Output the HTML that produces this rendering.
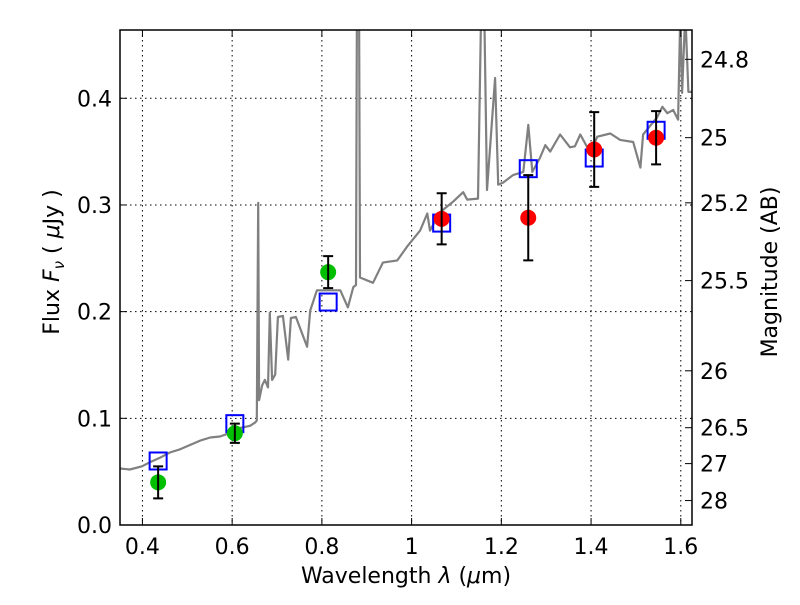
<!DOCTYPE html>
<html><head><meta charset="utf-8">
<style>
body{margin:0;background:#fff;}
svg text{font-family:"DejaVu Sans","Liberation Sans",sans-serif;fill:#000;}
</style></head>
<body>
<svg id="chart" width="800" height="600" viewBox="0 0 800 600" xmlns="http://www.w3.org/2000/svg">
<defs><clipPath id="plotclip"><rect x="120" y="30" width="572" height="495"/></clipPath></defs>
<rect width="800" height="600" fill="#fff"/>
<g id="grid"></g>
<g id="spec" clip-path="url(#plotclip)"></g>
<g id="marks"></g>
<rect x="120" y="30" width="572" height="495" fill="none" stroke="#000" stroke-width="1.5"/>
<g id="axes"></g>
<text x="406" y="583" font-size="22" text-anchor="middle">Wavelength  <tspan font-style="italic">λ</tspan> (<tspan font-style="italic">μ</tspan>m)</text>
<text transform="translate(59,262) rotate(-90)" font-size="22" text-anchor="middle">Flux  <tspan font-style="italic">F</tspan><tspan font-style="italic" font-size="15" dy="5">ν</tspan><tspan dy="-5">   (  </tspan><tspan font-style="italic">μ</tspan>Jy )</text>
<text transform="translate(777,272) rotate(-90)" font-size="22" text-anchor="middle">Magnitude (AB)</text>
</svg>
<script>
const specLam=[0.350,0.372,0.399,0.417,0.439,0.461,0.484,0.506,0.528,0.551,0.573,0.600,0.618,0.640,0.651,0.655,0.658,0.660,0.667,0.673,0.680,0.684,0.689,0.696,0.702,0.713,0.725,0.731,0.742,0.767,0.774,0.789,0.841,0.858,0.870,0.876,0.878,0.883,0.885,0.914,0.936,0.968,0.990,1.019,1.035,1.041,1.063,1.092,1.115,1.124,1.148,1.155,1.162,1.168,1.186,1.193,1.204,1.226,1.249,1.260,1.269,1.286,1.298,1.309,1.331,1.353,1.364,1.376,1.398,1.414,1.443,1.465,1.494,1.510,1.516,1.547,1.559,1.570,1.583,1.594,1.599,1.603,1.610,1.617,1.625];
const specFlux=[0.053,0.052,0.055,0.059,0.063,0.068,0.071,0.075,0.079,0.082,0.083,0.087,0.091,0.093,0.096,0.098,0.302,0.117,0.131,0.136,0.129,0.199,0.136,0.141,0.195,0.196,0.155,0.194,0.195,0.167,0.201,0.220,0.220,0.204,0.223,0.225,0.48,0.48,0.232,0.227,0.246,0.248,0.261,0.276,0.292,0.276,0.293,0.303,0.312,0.305,0.306,0.48,0.48,0.314,0.419,0.319,0.321,0.328,0.331,0.375,0.331,0.344,0.356,0.350,0.366,0.354,0.355,0.366,0.349,0.364,0.367,0.361,0.359,0.335,0.366,0.382,0.392,0.386,0.389,0.380,0.48,0.405,0.48,0.406,0.406];
const bandLam=[0.435,0.606,0.814,1.067,1.260,1.407,1.545];
const obsFlux=[0.040,0.086,0.237,0.287,0.288,0.352,0.363];
const obsErr=[0.015,0.009,0.015,0.024,0.040,0.035,0.025];
const obsColor=["#00bf00","#00bf00","#00bf00","#ff0000","#ff0000","#ff0000","#ff0000"];
const modelFlux=[0.060,0.095,0.209,0.283,0.334,0.344,0.370];
const xTicks=[0.4,0.6,0.8,1.0,1.2,1.4,1.6];
const xTickLabels=["0.4","0.6","0.8","1","1.2","1.4","1.6"];
const yTicks=[0.0,0.1,0.2,0.3,0.4];
const yTickLabels=["0.0","0.1","0.2","0.3","0.4"];
const magTicks=[24.8,25,25.2,25.5,26,26.5,27,28];

const X0=120,X1=692,Y0=525,Y1=30,LMIN=0.35,LMAX=1.625,FMIN=0,FMAX=0.464;
const sx=v=>X0+(v-LMIN)/(LMAX-LMIN)*(X1-X0);
const sy=v=>Y0-(v-FMIN)/(FMAX-FMIN)*(Y0-Y1);
const NS="http://www.w3.org/2000/svg";
function mk(tag,attrs,parent){const e=document.createElementNS(NS,tag);for(const k in attrs)e.setAttribute(k,attrs[k]);parent.appendChild(e);return e;}
const grid=document.getElementById('grid'),axes=document.getElementById('axes'),spec=document.getElementById('spec'),marks=document.getElementById('marks');

xTicks.forEach((t,i)=>{const x=sx(t);
 const g=mk('line',{x1:x,x2:x,y1:Y1,y2:Y0,stroke:'#000','stroke-width':1,'stroke-dasharray':'1.5,3.5'},grid);
 
 mk('line',{x1:x,x2:x,y1:Y0,y2:Y0-7,stroke:'#000'},axes);
 mk('line',{x1:x,x2:x,y1:Y1,y2:Y1+7,stroke:'#000'},axes);
 const tx=mk('text',{x:x,y:Y0+29,'font-size':22,'text-anchor':'middle'},axes);tx.textContent=xTickLabels[i];
 
});
yTicks.forEach((t,i)=>{const y=sy(t);
 const g=mk('line',{x1:X0,x2:X1,y1:y,y2:y,stroke:'#000','stroke-width':1,'stroke-dasharray':'1.5,3.5'},grid);
 
 mk('line',{x1:X0,x2:X0+7,y1:y,y2:y,stroke:'#000'},axes);
 const tx=mk('text',{x:X0-8,y:y+8,'font-size':22,'text-anchor':'end'},axes);tx.textContent=yTickLabels[i];
 
});
magTicks.forEach(m=>{const f=Math.pow(10,(23.9-m)/2.5);const y=sy(f);
 mk('line',{x1:X1,x2:X1-7,y1:y,y2:y,stroke:'#000'},axes);
 const tx=mk('text',{x:X1+8,y:y+8,'font-size':22,'text-anchor':'start'},axes);tx.textContent=String(m);
 
});
const pts=specLam.map((l,i)=>sx(l).toFixed(1)+','+sy(specFlux[i]).toFixed(1)).join(' ');
const pl=mk('polyline',{points:pts,fill:'none',stroke:'#808080','stroke-width':2.2,'stroke-linejoin':'round'},spec);


bandLam.forEach((l,i)=>{const x=sx(l);
 const sq=mk('rect',{x:x-8.5,y:sy(modelFlux[i])-8.5,width:17,height:17,fill:'none',stroke:'#0000ff','stroke-width':2},marks);
 
 const c=mk('circle',{cx:x,cy:sy(obsFlux[i]),r:8,fill:obsColor[i]},marks);
 
 const yt=sy(obsFlux[i]+obsErr[i]),yb=sy(obsFlux[i]-obsErr[i]);
 const eb=mk('path',{d:`M${x},${yt}V${yb}M${x-5},${yt}H${x+5}M${x-5},${yb}H${x+5}`,stroke:'#000','stroke-width':2,fill:'none'},marks);
 
});
</script>
</body></html>
